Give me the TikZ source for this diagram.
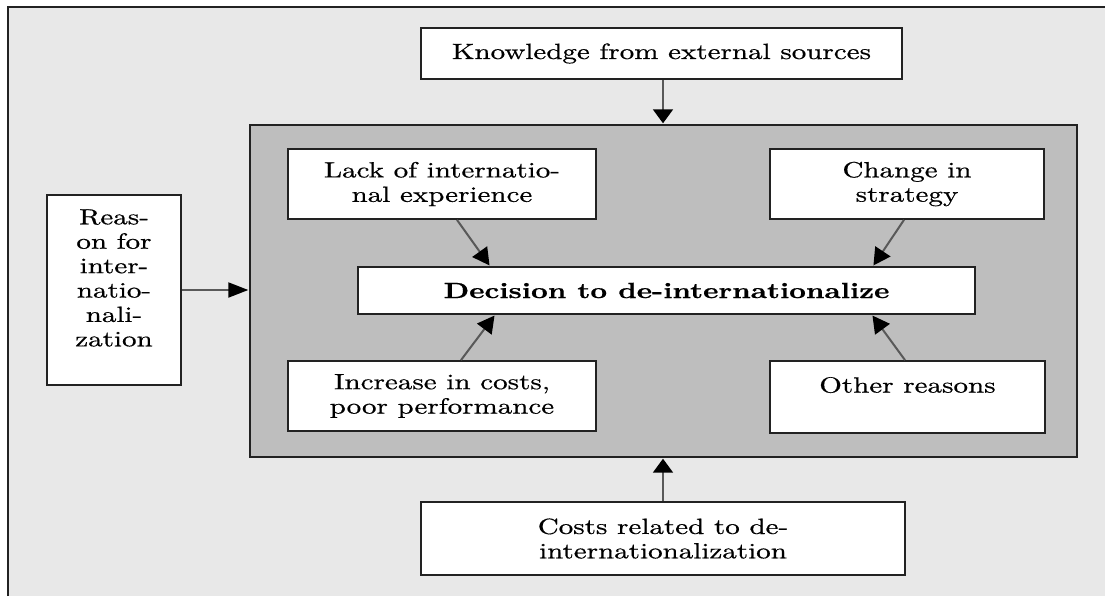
\documentclass[tikz,border=0pt]{standalone}
\usepackage{fontspec}
\setmainfont{Latin Modern Roman}[FakeStretch=1.32,FakeBold=0.6]
\usetikzlibrary{arrows.meta}
\definecolor{pagebg}{HTML}{E8E8E8}
\definecolor{panel}{HTML}{BEBEBE}
\definecolor{edge}{HTML}{222222}
\begin{document}
\begin{tikzpicture}[x=0.5pt,y=-0.5pt,
  font=\fontsize{11}{12.2}\selectfont,
  box/.style={draw=edge,line width=0.9pt,fill=white,inner sep=0pt,align=center},
  link/.style={draw=black!65,line width=1pt,shorten >=0.4pt},
  hlink/.style={link,-{Triangle[length=10pt,width=7.5pt,color=black]}},
  vlink/.style={link,-{Triangle[length=7pt,width=10pt,color=black]}},
  dlink/.style={link,-{Triangle[length=8.5pt,width=9pt,color=black]}}]
  % page area and outer frame
  \useasboundingbox (0,0) rectangle (1105,596);
  \fill[white] (0,0) rectangle (1105,596);
  \fill[pagebg] (8,7) rectangle (1105,596);
  \draw[edge,line width=1pt] (8,596) -- (8,7) -- (1105,7);

  % central panel
  \node[draw=edge,line width=0.9pt,fill=panel,minimum width=413.5pt,minimum height=166pt,inner sep=0pt] (panel) at (663.5,291) {};

  % boxes
  \node[box,minimum width=240.5pt,minimum height=25.5pt] (know) at (661.5,53.5) {Knowledge from external sources};
  \node[box,minimum width=67pt,minimum height=95pt] (reason) at (114,290) {Reas-\\on for\\inter-\\natio-\\nali-\\zation\\\mbox{}};
  \node[box,minimum width=154pt,minimum height=35pt] (lack) at (442,184) {Lack of internatio-\\nal experience};
  \node[box,minimum width=137pt,minimum height=35pt] (change) at (907,184) {Change in\\strategy};
  \node[box,minimum width=308.5pt,minimum height=23.5pt] (dec) at (666.5,290.5) {\bfseries Decision to de-internationalize};
  \node[box,minimum width=154pt,minimum height=35pt] (inc) at (442,396) {Increase in costs,\\poor performance};
  \node[box,minimum width=137.5pt,minimum height=36pt] (other) at (907.5,397) {Other reasons\\\mbox{}};
  \node[box,minimum width=242pt,minimum height=36.5pt] (costs) at (663,538.5) {Costs related to de-\\internationalization};

  % connectors
  \draw[vlink] ([xshift=0.75pt]know.south) -- ([xshift=0.75pt]know.south |- panel.north);
  \draw[hlink] (reason.east) -- (reason.east -| panel.west);
  \draw[vlink] (costs.north) -- (costs.north |- panel.south);
  \draw[dlink] ([xshift=7.5pt]lack.south) -- ([xshift=-88.25pt]dec.north);
  \draw[dlink] ([xshift=-1.5pt]change.south) -- ([xshift=103.25pt]dec.north);
  \draw[dlink] ([xshift=9.5pt]inc.north) -- ([xshift=-85.75pt]dec.south);
  \draw[dlink] ([xshift=-1.25pt]other.north) -- ([xshift=102.75pt]dec.south);
\end{tikzpicture}
\end{document}
